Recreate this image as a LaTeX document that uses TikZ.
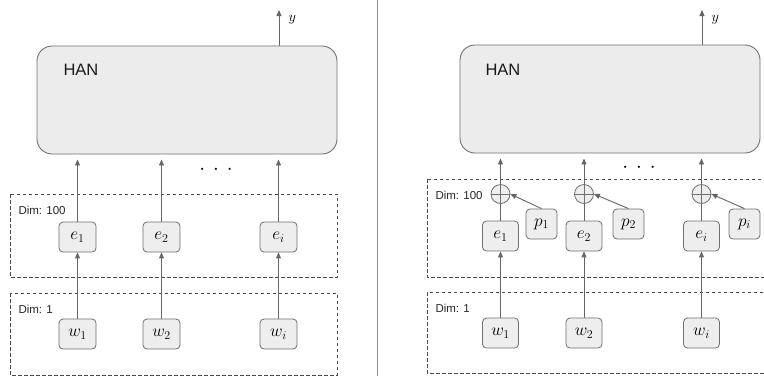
\documentclass[tikz,border=0pt]{standalone}
\usepackage{fontspec}
\setmainfont{Liberation Sans}
\usetikzlibrary{arrows.meta}
\definecolor{boxfill}{HTML}{EEEEEE}
\definecolor{hanfill}{HTML}{ECECEC}
\definecolor{edge}{HTML}{707070}
\definecolor{arrcol}{HTML}{666666}
\definecolor{dashcol}{HTML}{4A4A4A}
\tikzset{
  hanbox/.style={draw=edge, fill=hanfill, rounded corners=15pt, line width=0.9pt},
  vbox/.style={draw=edge, fill=boxfill, rounded corners=4pt, line width=0.8pt,
    minimum width=37pt, minimum height=30pt, inner sep=0pt,
    font=\fontsize{17}{20}\selectfont},
  pbox/.style={vbox, minimum width=31pt},
  plusnode/.style={draw=edge, fill=boxfill, circle, minimum size=19pt, inner sep=0pt, line width=0.8pt,
    path picture={\draw[edge, line width=0.8pt] (path picture bounding box.north) -- (path picture bounding box.south)
      (path picture bounding box.west) -- (path picture bounding box.east);}},
  arr/.style={draw=arrcol, line width=0.9pt, -{Triangle[length=6pt,width=5pt]}},
  plainline/.style={draw=arrcol, line width=0.9pt},
  dimbox/.style={draw=dashcol, line width=0.8pt, dash pattern=on 3.5pt off 2.5pt},
  dimlabel/.style={anchor=west, font=\fontsize{11.5}{13}\selectfont, text=black!85},
  hanlabel/.style={anchor=west, font=\fontsize{16.5}{19}\selectfont, text=black!90},
  ylabel/.style={anchor=west, font=\fontsize{15.5}{18}\selectfont},
  dotslabel/.style={font=\fontsize{22}{24}\selectfont}
}
\begin{document}
\begin{tikzpicture}[x=1pt,y=-1pt]
\useasboundingbox (0,0) rectangle (764,376);
\clip (0,0) rectangle (764,376);
\fill[white] (0,0) rectangle (764,376);
% divider
\draw[draw=black!45, line width=0.9pt] (377,0) -- (377,376);

% ---------------- left panel ----------------
\draw[dimbox] (10,194) rectangle (337,277);
\draw[dimbox] (10,293) rectangle (337,375);
\node[dimlabel] (ldim100) at (15,210) {Dim: 100};
\node[dimlabel] (ldim1) at (15,309) {Dim: 1};

\node[hanbox, minimum width=300pt, minimum height=108pt] (lhan) at (187,100) {};
\node[hanlabel] (lhant) at (60,70) {HAN};

\coordinate (ly) at (279,10);
\draw[arr] (lhan.north -| ly) -- (ly);
\node[ylabel] (lylab) at (285,20) {$y$};

\node[vbox] (le1) at (77.5,237) {$e_1$};
\node[vbox] (le2) at (161.5,237) {$e_2$};
\node[vbox] (lei) at (278.5,237) {$e_i$};
\node[vbox] (lw1) at (77.5,334) {$w_1$};
\node[vbox] (lw2) at (161.5,334) {$w_2$};
\node[vbox] (lwi) at (278.5,334) {$w_i$};

\foreach \a in {1,2,i} {
  \draw[arr] (lw\a) -- (le\a);
  \draw[arr, shorten >=5pt] (le\a) -- (le\a |- lhan.south);
}
\node[dotslabel] (ldots) at (216,170) {$\cdot\,\cdot\,\cdot$};

% ---------------- right panel ----------------
\draw[dimbox] (427,179) rectangle (790,277);
\draw[dimbox] (427,292) rectangle (790,373);
\node[dimlabel] (rdim100) at (432,195) {Dim: 100};
\node[dimlabel] (rdim1) at (432,308) {Dim: 1};

\node[hanbox, minimum width=300pt, minimum height=108pt] (rhan) at (610,99) {};
\node[hanlabel] (rhant) at (482,70) {HAN};

\coordinate (ry) at (702,10);
\draw[arr] (rhan.north -| ry) -- (ry);
\node[ylabel] (rylab) at (708,20) {$y$};

\node[vbox, minimum width=36pt] (re1) at (500.5,236) {$e_1$};
\node[vbox, minimum width=36pt] (re2) at (584,236) {$e_2$};
\node[vbox, minimum width=36pt] (rei) at (701.5,236) {$e_i$};
\node[vbox, minimum width=36pt] (rw1) at (500.5,333) {$w_1$};
\node[vbox, minimum width=36pt] (rw2) at (584,333) {$w_2$};
\node[vbox, minimum width=36pt] (rwi) at (701.5,333) {$w_i$};
\node[pbox] (rp1) at (541.5,224) {$p_1$};
\node[pbox] (rp2) at (628.5,224) {$p_2$};
\node[pbox] (rpi) at (744.5,224) {$p_i$};
\node[plusnode] (rc1) at (500.5,194) {};
\node[plusnode] (rc2) at (584,194) {};
\node[plusnode] (rci) at (701.5,194) {};

\foreach \a in {1,2,i} {
  \draw[arr] (rw\a) -- (re\a);
  \draw[plainline] (re\a) -- (rc\a);
  \draw[arr, shorten >=5pt] (rc\a) -- (rc\a |- rhan.south);
  \draw[arr] (rp\a.north) -- (rc\a.east);
}
\node[dotslabel] (rdots) at (639,168) {$\cdot\,\cdot\,\cdot$};
\end{tikzpicture}
\end{document}
